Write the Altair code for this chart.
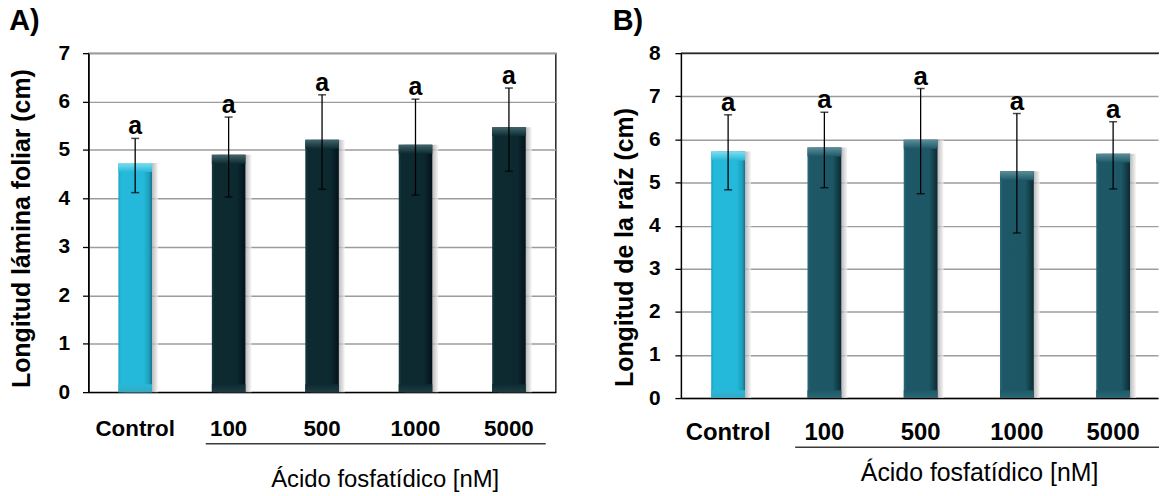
import altair as alt
import pandas as pd

# Treatments (phosphatidic acid concentrations, nM)
categorias = ["Control", "100", "500", "1000", "5000"]
letras = ["a", "a", "a", "a", "a"]

# A) leaf blade length (cm): mean and error-bar limits
lamina_media = [4.73, 4.90, 5.21, 5.11, 5.47]
lamina_inf = [4.12, 4.03, 4.19, 4.07, 4.56]
lamina_sup = [5.24, 5.68, 6.14, 6.05, 6.28]

# B) root length (cm): mean and error-bar limits
raiz_media = [5.72, 5.81, 5.99, 5.26, 5.67]
raiz_inf = [4.83, 4.88, 4.74, 3.83, 4.85]
raiz_sup = [6.57, 6.63, 7.18, 6.60, 6.41]

FONT = "Liberation Sans"


def grad(stops, vertical=False):
    return alt.LinearGradient(
        gradient="linear",
        stops=[alt.GradientStop(offset=o, color=c) for o, c in stops],
        x1=0, x2=0 if vertical else 1, y1=0, y2=1 if vertical else 0,
    )


CYAN_BODY = grad([(0, "#1a9fbf"), (0.08, "#24b9da"), (0.75, "#24b9da"), (0.92, "#1e9dbb"), (1, "#146f86")])
CYAN_TOP = grad([(0, "#7fdcf0"), (1, "#24b9da")], vertical=True)
CYAN_FOOT = grad([(0, "#24b9da"), (1, "#3aa7c0")], vertical=True)
SHADOW = grad([(0, "#8a8a8a"), (0.8, "#9a9a9a"), (1, "#f4f4f4")])


def panel(media, inf, sup, ymax, w, h, y_title, body, top, foot, pad_in, pad_out, align,
          lab_size, lab_pad, ylab_pad, ytitle_pad, ytitle_y, xtitle_x, xtitle_y, xtitle_size,
          line_x1, line_x2, line_y, letra_size, titulo, title_offset, border_top=False):
    df = pd.DataFrame({
        "cat": categorias, "media": media, "inf": inf, "sup": sup, "letra": letras,
        "grupo": ["control" if c == "Control" else "trat" for c in categorias],
    })
    x = alt.X(
        "cat:N", sort=categorias,
        scale=alt.Scale(paddingInner=pad_in, paddingOuter=pad_out, align=align),
        axis=alt.Axis(
            title="Ácido fosfatídico [nM]", labelAngle=0, ticks=False, tickSize=0,
            labelFont=FONT, labelFontSize=lab_size, labelFontWeight="bold", labelColor="black",
            labelBaseline="alphabetic", labelPadding=lab_pad,
            domainColor="black", domainWidth=1.5,
            titleFont=FONT, titleFontSize=xtitle_size, titleFontWeight="normal", titleColor="black",
            titleX=xtitle_x, titleY=xtitle_y, titleBaseline="alphabetic", titleAlign="center",
        ),
    )
    y_scale = alt.Scale(domain=[0, ymax], nice=False)
    y_axis = alt.Axis(
        values=list(range(ymax + 1)), title=y_title, grid=True,
        gridColor="#9c9c9c", gridWidth=1.5, tickSize=6, tickColor="black", tickWidth=1.3,
        domainColor="black", domainWidth=1.5,
        labelFont=FONT, labelFontSize=21, labelFontWeight="bold", labelColor="black",
        labelPadding=ylab_pad,
        titleFont=FONT, titleFontSize=25, titleFontWeight="bold", titleColor="black",
        titlePadding=ytitle_pad, titleY=ytitle_y,
    )

    def yy(campo):
        return alt.Y(f"{campo}:Q", scale=y_scale, axis=y_axis)

    trat = "datum.grupo == 'trat'"
    ctrl = "datum.grupo == 'control'"
    base = alt.Chart(df)
    sombra = base.mark_bar(xOffset=6, color=SHADOW, opacity=0.75).encode(x=x, y=yy("media"))
    barras = base.mark_bar(color=body).encode(x=x, y=yy("media")).transform_filter(trat)
    control = base.mark_bar(color=CYAN_BODY).encode(x=x, y=yy("media")).transform_filter(ctrl)
    # bevelled top and foot of each bar
    bisel = base.mark_bar(color=top, y2Offset=9).encode(
        x=x, y=yy("media"), y2="media:Q").transform_filter(trat)
    bisel_c = base.mark_bar(color=CYAN_TOP, y2Offset=9).encode(
        x=x, y=yy("media"), y2="media:Q").transform_filter(ctrl)
    pie = base.mark_bar(color=foot, yOffset=-8).encode(
        x=x, y=alt.Y(datum=0, scale=y_scale, axis=y_axis), y2=alt.datum(0)).transform_filter(trat)
    pie_c = base.mark_bar(color=CYAN_FOOT, yOffset=-8).encode(
        x=x, y=alt.Y(datum=0, scale=y_scale, axis=y_axis), y2=alt.datum(0)).transform_filter(ctrl)
    error = base.mark_rule(color="black", strokeWidth=1.3).encode(x=x, y=yy("inf"), y2="sup:Q")
    cap_sup = base.mark_tick(color="black", size=8, thickness=1.5).encode(x=x, y=yy("sup"))
    cap_inf = base.mark_tick(color="black", size=8, thickness=1.5).encode(x=x, y=yy("inf"))
    texto = base.mark_text(font=FONT, fontSize=letra_size, fontWeight="bold", baseline="alphabetic",
                           dy=-4, color="black").encode(x=x, y=yy("sup"), text="letra:N")
    marco = pd.DataFrame({"k": [0]})
    subrayado = alt.Chart(marco).mark_rule(color="#3a3a3a", strokeWidth=1.5).encode(
        x=alt.value(line_x1), x2=alt.value(line_x2), y=alt.value(line_y))
    capas = [sombra, barras, control, bisel, bisel_c, pie, pie_c, error, cap_sup, cap_inf, texto, subrayado]
    if border_top:
        capas.append(alt.Chart(marco).mark_rule(color="black", strokeWidth=1.3).encode(
            x=alt.value(0), x2=alt.value(w + 1), y=alt.value(0)))
    ch = alt.layer(*capas).properties(
        width=w, height=h,
        title=alt.Title(titulo, anchor="start", frame="bounds", font=FONT, fontSize=29,
                        fontWeight="bold", color="black", baseline="alphabetic", offset=title_offset),
    )
    return ch


A = panel(
    lamina_media, lamina_inf, lamina_sup, 7, 470, 341, "Longitud lámina foliar (cm)",
    grad([(0, "#183c44"), (0.08, "#0d2a31"), (0.75, "#0c2930"), (1, "#03121a")]),
    grad([(0, "#41646b"), (1, "#0d2a31")], vertical=True),
    grad([(0, "#0d2a31"), (1, "#1f3c42")], vertical=True),
    0.641, 0.3205, 0.5,
    22.5, 44, 13, 24, 176, 298, 95, 24,
    118, 460, 393, 25, "A)", -17,
)

B = panel(
    raiz_media, raiz_inf, raiz_sup, 8, 480, 347, "Longitud de la raíz (cm)",
    grad([(0, "#2b6a78"), (0.08, "#1e5866"), (0.75, "#1d5664"), (1, "#0b2a33")]),
    grad([(0, "#5a8e9a"), (1, "#1e5866")], vertical=True),
    grad([(0, "#1e5866"), (1, "#2f6674")], vertical=True),
    0.649, 0.303, 0.52,
    24, 42, 15, 11, 195, 300, 83, 25,
    115, 481, 396.5, 26, "B)", -17, border_top=True,
).properties(view=alt.ViewBackground(stroke="transparent"))

chart = alt.hconcat(A, B, spacing=55).configure_view(
    stroke="black", strokeWidth=1.3
).properties(
    padding={"left": 8, "top": 5, "right": 0, "bottom": 0},
    background="white",
)

chart.save("out.html", embed_options={"renderer": "svg", "actions": False})
